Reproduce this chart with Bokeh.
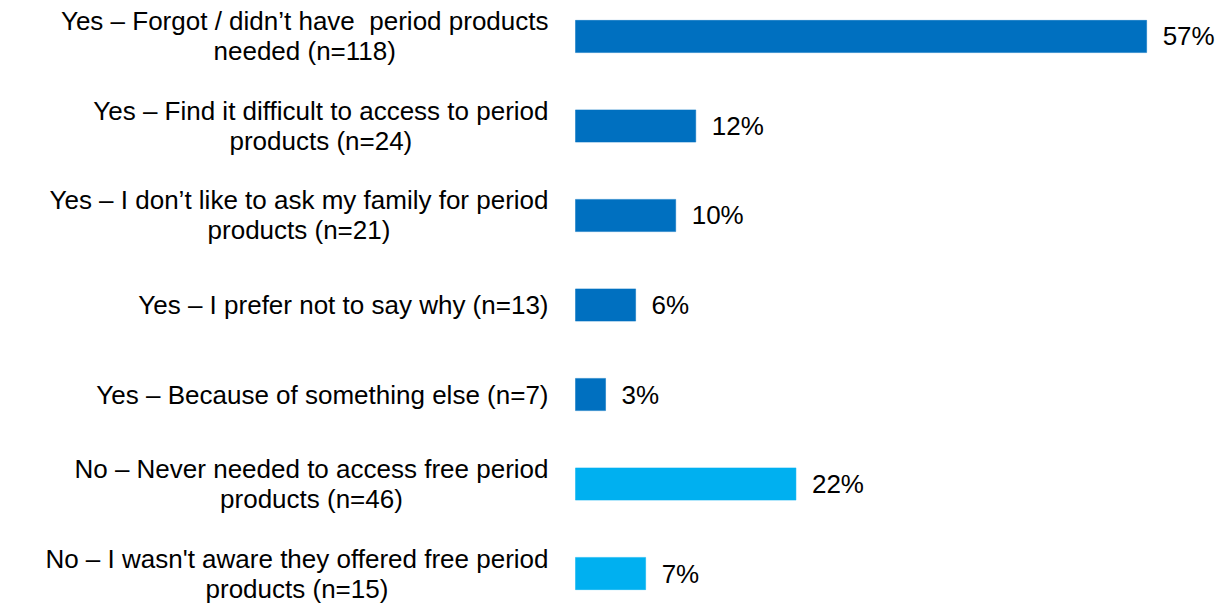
from bokeh.plotting import figure
from bokeh.models import ColumnDataSource, Range1d
from bokeh.core.properties import value
from bokeh.embed import file_html
from bokeh.resources import INLINE

# Survey responses, top to bottom
categories = [
    "Yes \u2013 Forgot / didn\u2019t have \u00a0period products\nneeded (n=118)",
    "Yes \u2013 Find it difficult to access to period\nproducts (n=24)",
    "Yes \u2013 I don\u2019t like to ask my family for period\nproducts (n=21)",
    "Yes \u2013 I prefer not to say why (n=13)",
    "Yes \u2013 Because of something else (n=7)",
    "No \u2013 Never needed to access free period\nproducts (n=46)",
    "No \u2013 I wasn't aware they offered free period\nproducts (n=15)",
]
percentages = [57, 12, 10, 6, 3, 22, 7]
answers = ["Yes", "Yes", "Yes", "Yes", "Yes", "No", "No"]

palette = {"Yes": "#0070C0", "No": "#00B0F0"}
FONT = "Liberation Sans"
FONT_SIZE = "26px"

src = ColumnDataSource(dict(
    pos=list(range(len(categories))),
    label=categories,
    pct=percentages,
    pct_label=[f"{v}%" for v in percentages],
    colour=[palette[a] for a in answers],
))

px_per_pct = 10.02
x_start = -575 / px_per_pct
x_end = (1227 - 575) / px_per_pct

p = figure(
    width=1227, height=603,
    x_range=Range1d(x_start, x_end),
    y_range=Range1d(6.335, -0.402),
    output_backend="svg", toolbar_location=None,
    min_border=0,
)
p.axis.visible = False
p.xgrid.visible = False
p.ygrid.visible = False
p.outline_line_color = None
p.background_fill_color = "white"
p.border_fill_color = "white"

p.hbar(y="pos", left=0, right="pct", height=0.36, fill_color="colour",
       line_color="colour", line_width=0.5, source=src)

p.text(x="pct", y="pos", text="pct_label", x_offset=16,
       text_align="left", text_baseline="middle",
       text_font=value(FONT), text_font_size=FONT_SIZE, text_color="#000000",
       source=src)

p.text(x=0, y="pos", text="label", x_offset=-27,
       anchor="center_right", text_align="center", text_baseline="middle",
       text_line_height=1.0,
       text_font=value(FONT), text_font_size=FONT_SIZE, text_color="#000000",
       source=src)

open("out.html", "w").write(file_html(p, INLINE))
